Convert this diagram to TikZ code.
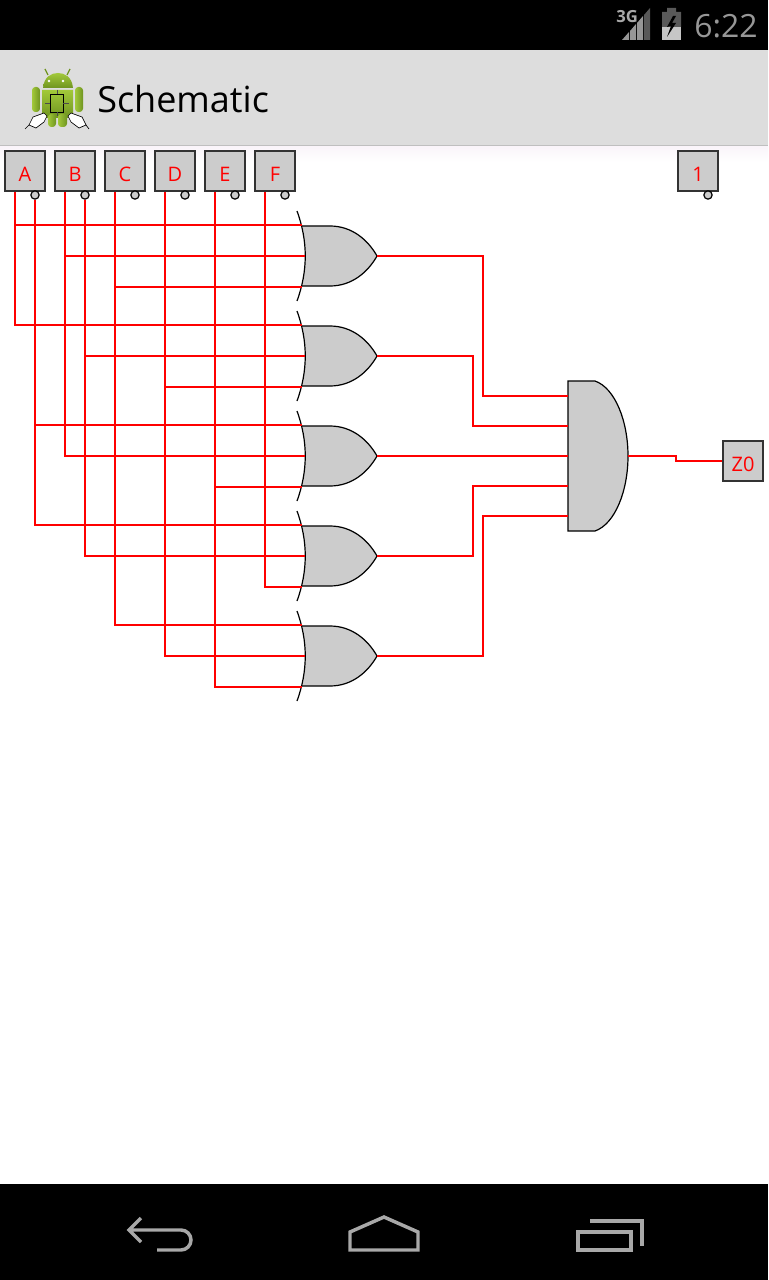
\documentclass[tikz,border=0pt]{standalone}
\usepackage{fontspec}
\setmainfont{Open Sans}
\usepackage{tikz}
\usetikzlibrary{arrows}
\definecolor{boxgray}{HTML}{CCCCCC}
\definecolor{edgegray}{HTML}{333333}
\definecolor{bargray}{HTML}{DDDDDD}
\definecolor{navgray}{HTML}{A8A8A8}
\definecolor{robot}{HTML}{A2C93A}
\definecolor{robotdark}{HTML}{6F9420}
\tikzstyle{inbox} = [rectangle, minimum size=30pt, inner sep=0pt, draw=edgegray, line width=1pt, fill=boxgray, text=red, font=\fontsize{15pt}{16pt}\selectfont, text height=15.7pt, text depth=0pt, text centered]
\tikzstyle{outpin} = [circle, minimum size=6.2pt, inner sep=0pt, draw=black, line width=.9pt, fill=boxgray]
\tikzstyle{wire} = [red, line width=1.25pt]
\tikzstyle{navicon} = [navgray, line width=2.6pt, miter limit=10]
\tikzstyle{title} = [inner sep=0pt, anchor=west]
\tikzstyle{robotv} = [top color=robot, bottom color=robotdark]
\tikzstyle{roboth} = [left color=robot, right color=robotdark, rounded corners=2.5pt]
\tikzset{
  orgate/.pic={
    \path[fill=boxgray] (-3,-30) -- (25,-30) .. controls (47,-30) and (63,-16) .. (72,0) .. controls (63,16) and (47,30) .. (25,30) -- (-3,30) .. controls (1.4,15) and (1.4,-15) .. (-3,-30);
    \draw[black, line width=.9pt] (-3,-30) -- (25,-30) .. controls (47,-30) and (63,-16) .. (72,0) .. controls (63,16) and (47,30) .. (25,30) -- (-3,30);
    \draw[black, line width=.9pt] (-8,-45) .. controls (3,-15) and (3,15) .. (-8,45);
    \coordinate (-in1) at (-3,-31);
    \coordinate (-in2) at (0,0);
    \coordinate (-in3) at (-3,31);
    \coordinate (-out) at (72,0);
  },
  andgate/.pic={
    \draw[black, line width=.9pt, fill=boxgray] (0,-75) -- (27,-75) .. controls (47,-68) and (60,-35) .. (60,0) .. controls (60,35) and (47,68) .. (27,75) -- (0,75) -- cycle;
    \coordinate (-in1) at (0,-60);
    \coordinate (-in2) at (0,-30);
    \coordinate (-in3) at (0,0);
    \coordinate (-in4) at (0,30);
    \coordinate (-in5) at (0,60);
    \coordinate (-out) at (60,0);
  }
}

\begin{document}
\begin{tikzpicture}[x=.75pt, y=-.75pt, node distance=37.5pt]

\useasboundingbox (0,0) rectangle (768,1280);

% phone frame
\fill[white] (0,0) rectangle (768,1280);
\fill[black] (0,0) rectangle (768,50);
\fill[bargray] (0,50) rectangle (768,145);
\fill[gray!50] (0,145) rectangle (768,147);
\shade[top color=violet!4, bottom color=white] (0,147) rectangle (768,162);
\fill[black] (0,1184) rectangle (768,1280);

% status bar
\node(net)[title, text=navgray, font=\bfseries\fontsize{12.5pt}{15pt}\selectfont] at (616,17){3G};
\fill[navgray!120] (622,40) -- (629,32) -- (629,40) -- cycle;
\fill[navgray!120] (630,40) -- (630,31) -- (636,24) -- (636,40) -- cycle;
\fill[navgray!120] (637,40) -- (637,23) -- (643,16) -- (643,40) -- cycle;
\fill[black!65] (644,40) -- (644,15) -- (650,8) -- (650,40) -- cycle;
\fill[black!65] (667,8) rectangle (676,12) (662,12) rectangle (681,27);
\fill[gray!45] (662,27) rectangle (681,40);
\fill[black] (673,16) -- (667,27) -- (671,26) -- (667,37) -- (676,23) -- (672,23) -- (676,16) -- cycle;
\node(clock)[title, text=navgray!120, font=\fontsize{24pt}{28pt}\selectfont] at (694,26){6:22};

% title bar
\draw[robotdark, line width=1pt] (45,69) -- (48,75) (70,69) -- (67,75);
\shade[robotv] (43,88) .. controls (44,77) and (51,73) .. (58,73) .. controls (65,73) and (72,77) .. (73,88) -- cycle;
\shade[robotv] (42,90) -- (73,90) -- (73,113) .. controls (73,116) and (71,118) .. (68,118) -- (47,118) .. controls (44,118) and (42,116) .. (42,113) -- cycle;
\shade[roboth] (32,87) rectangle (40,112);
\shade[roboth] (75,87) rectangle (83,112);
\shade[roboth] (48,114) rectangle (56,127);
\shade[roboth] (58,114) rectangle (67,127);
\fill[white] (49,81) circle[radius=1.3] (63,81) circle[radius=1.3];
\draw[black, line width=.7pt] (50,94) rectangle (63,112);
\draw[black!70, line width=.4pt] (57,90) -- (57,94) (57,112) -- (57,116) (45,103) -- (50,103) (63,103) -- (69,103);
\draw[black, line width=.5pt, fill=white] (44,113) -- (33,117) -- (29,125) -- (36,128) -- (44,122) -- (47,116) -- cycle;
\draw[black, line width=.5pt, fill=white] (71,113) -- (82,117) -- (86,125) -- (79,128) -- (71,122) -- (68,116) -- cycle;
\draw[black, line width=.5pt] (29,125) -- (25,129) (86,125) -- (89,129);
\node(appname)[title, text=black, font=\fontsize{27pt}{30pt}\selectfont] at (97,99){Schematic};

% inputs
\node(inA)[inbox] at (25,171){A};
\node(inB)[inbox, right of=inA]{B};
\node(inC)[inbox, right of=inB]{C};
\node(inD)[inbox, right of=inC]{D};
\node(inE)[inbox, right of=inD]{E};
\node(inF)[inbox, right of=inE]{F};
\node(inOne)[inbox] at (698,171){1};
\node(outZ)[inbox] at (743,461){Z0};

\node(pinA)[outpin] at (35,195){};
\node(pinB)[outpin, right of=pinA]{};
\node(pinC)[outpin, right of=pinB]{};
\node(pinD)[outpin, right of=pinC]{};
\node(pinE)[outpin, right of=pinD]{};
\node(pinF)[outpin, right of=pinE]{};
\node(pinOne)[outpin] at (708,195){};

% gates
\pic(g1) at (305,256){orgate};
\pic(g2) at (305,356){orgate};
\pic(g3) at (305,456){orgate};
\pic(g4) at (305,556){orgate};
\pic(g5) at (305,656){orgate};
\pic(g6) at (568,456){andgate};

% wires into the or gates
\draw[wire]([xshift=-7.5pt]inA.south) |- (g1-in1);
\draw[wire]([xshift=-7.5pt]inB.south) |- (g1-in2);
\draw[wire]([xshift=-7.5pt]inC.south) |- (g1-in3);
\draw[wire]([xshift=-7.5pt]inA.south) |- (g2-in1);
\draw[wire](pinB.south) |- (g2-in2);
\draw[wire]([xshift=-7.5pt]inD.south) |- (g2-in3);
\draw[wire](pinA.south) |- (g3-in1);
\draw[wire]([xshift=-7.5pt]inB.south) |- (g3-in2);
\draw[wire]([xshift=-7.5pt]inE.south) |- (g3-in3);
\draw[wire](pinA.south) |- (g4-in1);
\draw[wire](pinB.south) |- (g4-in2);
\draw[wire]([xshift=-7.5pt]inF.south) |- (g4-in3);
\draw[wire]([xshift=-7.5pt]inC.south) |- (g5-in1);
\draw[wire]([xshift=-7.5pt]inD.south) |- (g5-in2);
\draw[wire]([xshift=-7.5pt]inE.south) |- (g5-in3);

% wires into the and gate
\draw[wire](g1-out) -- ++(106,0) |- (g6-in1);
\draw[wire](g2-out) -- ++(96,0) |- (g6-in2);
\draw[wire](g3-out) -- (g6-in3);
\draw[wire](g4-out) -- ++(96,0) |- (g6-in4);
\draw[wire](g5-out) -- ++(106,0) |- (g6-in5);
\draw[wire](g6-out) -- ++(48,0) |- (outZ.west);

% navigation bar
\draw[navicon] (141,1218) -- (129,1230) -- (141,1242) (129,1230) -- (181,1230) arc[start angle=-90, end angle=90, radius=10] -- (157,1250);
\draw[navicon] (350,1232) -- (384,1217) -- (418,1232) -- (418,1250) -- (350,1250) -- cycle;
\draw[navicon] (578,1232) rectangle (631,1250);
\draw[navicon] (590,1221) -- (642,1221) -- (642,1246);

\end{tikzpicture}
\end{document}
